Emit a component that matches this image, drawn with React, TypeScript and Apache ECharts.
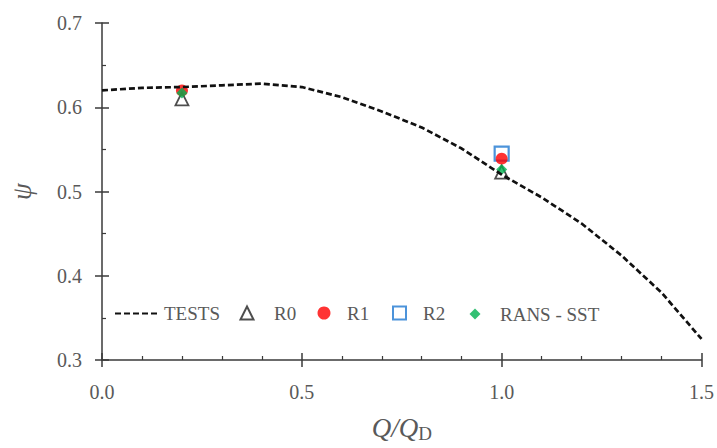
import React, { useEffect, useRef } from "react";
import * as echarts from "echarts";

const testsX = [0, 0.1, 0.2, 0.3, 0.4, 0.5, 0.6, 0.7, 0.8, 0.9, 1.0, 1.1, 1.2, 1.3, 1.4, 1.5];
const testsY = [0.62, 0.623, 0.624, 0.626, 0.628, 0.624, 0.612, 0.595, 0.576, 0.551, 0.52, 0.493, 0.462, 0.424, 0.38, 0.325];
const r0 = [[0.2, 0.61], [1.0, 0.523]];
const r1 = [[0.2, 0.62], [1.0, 0.539]];
const r2 = [[1.0, 0.545]];
const rans = [[0.2, 0.617], [1.0, 0.526]];

const FONT = "Liberation Serif";
const GRAY = "#595959";
const AXIS = "#3a3a3a";
const LEGEND_Y = 310;

export default function App() {
  const ref = useRef<HTMLDivElement>(null);
  useEffect(() => {
    if (!ref.current) return;
    const chart = echarts.init(ref.current, undefined, { renderer: "svg" });
    const txt = { color: GRAY, fontFamily: FONT, fontSize: 20 };
    const legTxt = { color: GRAY, fontFamily: FONT, fontSize: 19 };
    const legendBase = (name: string, left: number, w: number, h: number, pad: number, extra: any = {}) => ({
      data: [name],
      left,
      top: LEGEND_Y - h / 2,
      padding: 0,
      itemWidth: w,
      itemHeight: h,
      itemGap: 0,
      symbolKeepAspect: true,
      formatter: pad > 0 ? "{p| }" + name : name,
      textStyle: { ...legTxt, rich: { p: { width: pad, fontSize: 19, fontFamily: FONT } } },
      selectedMode: false,
      ...extra,
    });
    const xBase = {
      type: "value",
      min: 0,
      max: 1.5,
      interval: 0.5,
      position: "bottom",
      splitLine: { show: false },
    };
    const yBase = {
      type: "value",
      min: 0.3,
      max: 0.7,
      interval: 0.1,
      position: "left",
      splitLine: { show: false },
    };
    chart.setOption({
      animation: false,
      backgroundColor: "#fff",
      grid: { left: 93, right: 15, top: 23, bottom: 79 },
      legend: [
        legendBase("TESTS", 114, 44, 12, 0, {
          itemStyle: { opacity: 0, color: "rgba(0,0,0,0)", borderColor: "rgba(0,0,0,0)" },
        }),
        legendBase("R0", 239.5, 13, 13, 15.5),
        legendBase("R1", 317.5, 13, 13, 11.5),
        legendBase("R2", 392, 13, 13, 12),
        legendBase("RANS - SST", 469.5, 11, 11, 14.5),
      ],
      xAxis: [
        {
          ...xBase,
          axisLine: { show: true, lineStyle: { color: AXIS, width: 1.5 } },
          axisTick: { show: true, inside: true, length: 7, lineStyle: { color: AXIS, width: 1.5 } },
          minorTick: { show: true, splitNumber: 5, length: 4, lineStyle: { color: AXIS, width: 1.2 } },
          axisLabel: { ...txt, margin: 22, formatter: (v: number) => v.toFixed(1) },
          name: "{i|Q/Q}{s|D}",
          nameLocation: "middle",
          nameGap: 52,
          nameTextStyle: {
            rich: {
              i: { fontFamily: FONT, fontStyle: "italic", fontSize: 27, color: GRAY },
              s: { fontFamily: FONT, fontSize: 19, color: GRAY, verticalAlign: "bottom", padding: [12, 0, 0, 0] },
            },
          },
        },
        {
          ...xBase,
          axisLine: { show: false },
          axisTick: { show: true, inside: false, length: 7, lineStyle: { color: AXIS, width: 1.5 } },
          axisLabel: { show: false },
        },
      ],
      yAxis: [
        {
          ...yBase,
          axisLine: { show: true, lineStyle: { color: AXIS, width: 1.5 } },
          axisTick: { show: true, inside: true, length: 7, lineStyle: { color: AXIS, width: 1.5 } },
          minorTick: { show: true, splitNumber: 2, length: 4, lineStyle: { color: AXIS, width: 1.2 } },
          axisLabel: { ...txt, margin: 20, formatter: (v: number) => v.toFixed(1) },
          name: "ψ",
          nameLocation: "middle",
          nameGap: 67,
          nameRotate: 90,
          nameTextStyle: { fontFamily: FONT, fontStyle: "italic", fontSize: 27, color: GRAY },
        },
        {
          ...yBase,
          axisLine: { show: false },
          axisTick: { show: true, inside: false, length: 7, lineStyle: { color: AXIS, width: 1.5 } },
          axisLabel: { show: false },
        },
      ],
      series: [
        {
          name: "TESTS",
          type: "line",
          data: testsX.map((x, i) => [x, testsY[i]]),
          symbol: "none",
          lineStyle: { color: "#111", width: 2.7, type: [6, 3] },
          itemStyle: { color: "#111" },
        },
        {
          name: "R0",
          type: "scatter",
          data: r0,
          symbol: "triangle",
          symbolSize: 13,
          itemStyle: { color: "#fff", borderColor: "#222", borderWidth: 1.8 },
        },
        {
          name: "R2",
          type: "scatter",
          data: r2,
          symbol: "rect",
          symbolSize: 14,
          itemStyle: { color: "#fff", borderColor: "#1f78d1", borderWidth: 2.2 },
        },
        {
          name: "R1",
          type: "scatter",
          data: r1,
          symbol: "circle",
          symbolSize: 12,
          itemStyle: { color: "#ff0000" },
        },
        {
          name: "RANS - SST",
          type: "scatter",
          data: rans,
          symbol: "diamond",
          symbolSize: 11,
          itemStyle: { color: "#00b050" },
        },
      ],
    });
    return () => chart.dispose();
  }, []);
  return <div ref={ref} style={{ position: "fixed", left: 0, top: 0, width: 717, height: 448 }} />;
}
